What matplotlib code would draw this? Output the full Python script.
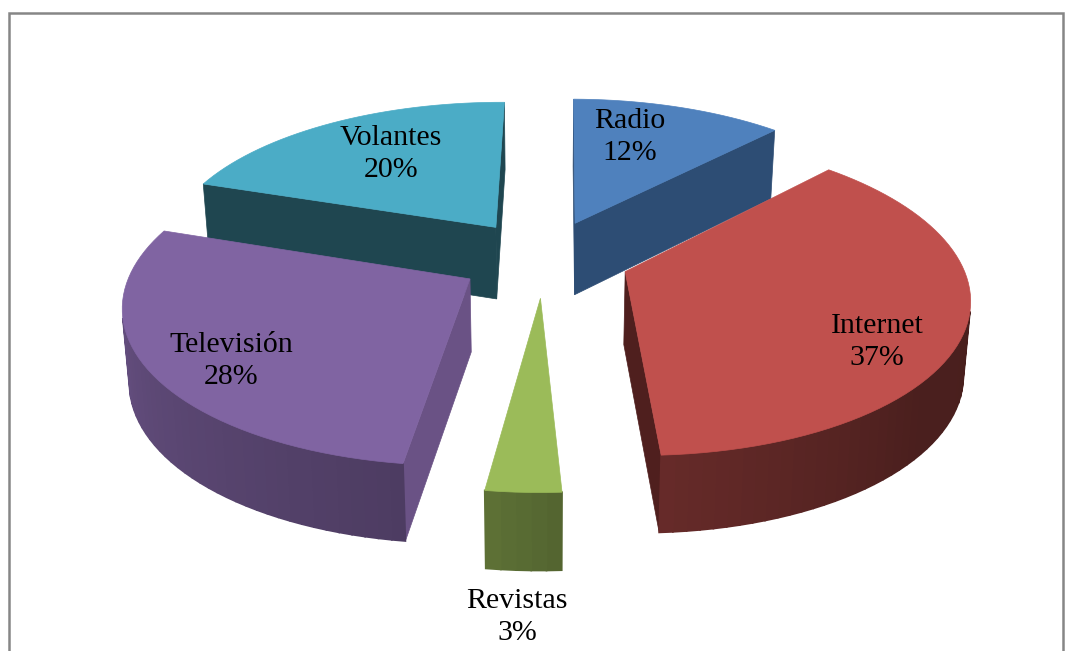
"""Pastel 3D separado: medios de difusion (proyeccion en perspectiva con matplotlib)."""
import numpy as np
import matplotlib
matplotlib.use("Agg")
import matplotlib.pyplot as plt
from matplotlib.patches import Polygon, Rectangle

# ── Datos ──────────────────────────────────────────────
categories = ["Radio", "Internet", "Revistas", "Televisión", "Volantes"]
shares = [12, 37, 3, 28, 20]

# ── Estilo ─────────────────────────────────────────────
top_colors = ["#4F81BD", "#C0504D", "#9BBB59", "#8064A2", "#4BACC6"]
cut_colors = ["#2D4D74", "#4F1F1E", "#5A6F34", "#6A5285", "#1F4650"]
label_xy = [(630, 137), (877, 342), (517, 617), (231, 361), (391, 154)]

START_ANGLE = np.radians(0.5)
EXPLODE = 0.255
ELEV = np.radians(27)
DIST = 6.0
FOCAL = 335 * DIST
CX, CY = 544, 258

cam_y = -DIST * np.cos(ELEV)


def project(x, y, z):
    # z = 0 cara superior, z = -1 base
    d = DIST + y * np.cos(ELEV)
    u = CX + FOCAL * x / d * (1 + 0.017 * z)
    v = CY - FOCAL * y * np.sin(ELEV) / d - z * (72.5 - 4.4 * y)
    return u, v


def face(p3d, color, ax, lw=0.5):
    pts = [project(*p) for p in p3d]
    ax.add_patch(Polygon(pts, closed=True, facecolor=color, edgecolor=color, lw=lw, zorder=1))


def visible(p, normal):
    return normal[0] * (0 - p[0]) + normal[1] * (cam_y - p[1]) > 0


def shade(color, theta):
    f = np.interp(abs(np.degrees(theta) - 90), [0, 40, 86, 97, 198], [0.38, 0.385, 0.53, 0.6, 0.85])
    return np.array(matplotlib.colors.to_rgb(color)) * f


fig = plt.figure(figsize=(10.65, 6.51), dpi=100)
ax = fig.add_axes([0, 0, 1, 1])
ax.set_xlim(0, 1065)
ax.set_ylim(651, 0)
ax.axis("off")
ax.add_patch(Rectangle((8.5, 12.5), 1054, 700, facecolor="white", edgecolor="#868686", lw=1.8))

total = sum(shares)
edges = START_ANGLE + np.concatenate([[0], np.cumsum(shares)]) / total * 2 * np.pi
wedges = []
for i in range(len(shares)):
    mid = (edges[i] + edges[i + 1]) / 2
    wedges.append((i, EXPLODE * np.sin(mid), EXPLODE * np.cos(mid)))
# del fondo hacia el frente
wedges.sort(key=lambda w: -w[2])

for i, ox, oy in wedges:
    t = np.linspace(edges[i], edges[i + 1], max(int(np.degrees(edges[i + 1] - edges[i]) / 2), 3) + 1)
    rim = [(ox + np.sin(a), oy + np.cos(a)) for a in t]
    apex = (ox, oy)

    # caras de corte
    for k, (p, sign) in enumerate([(rim[0], -1), (rim[-1], 1)]):
        a = t[0] if k == 0 else t[-1]
        n = (sign * np.cos(a), -sign * np.sin(a))
        if visible(apex, n):
            face([(*apex, 0), (*p, 0), (*p, -1), (*apex, -1)], cut_colors[i], ax)

    # pared exterior con degradado
    for j in range(len(t) - 1):
        am = (t[j] + t[j + 1]) / 2
        if visible(rim[j], (np.sin(am), np.cos(am))):
            c = shade(top_colors[i], am)
            face([(*rim[j], 0), (*rim[j + 1], 0), (*rim[j + 1], -1), (*rim[j], -1)], c, ax, lw=1.2)

    # cara superior
    face([(*apex, 0)] + [(*p, 0) for p in rim], top_colors[i], ax)

for name, share, (x, y) in zip(categories, shares, label_xy):
    ax.text(x, y, f"{name}\n{share}%", ha="center", va="center", fontsize=21.5,
            family="Liberation Serif", color="black", linespacing=1.27, zorder=5)

fig.savefig("out.png", dpi=100)
